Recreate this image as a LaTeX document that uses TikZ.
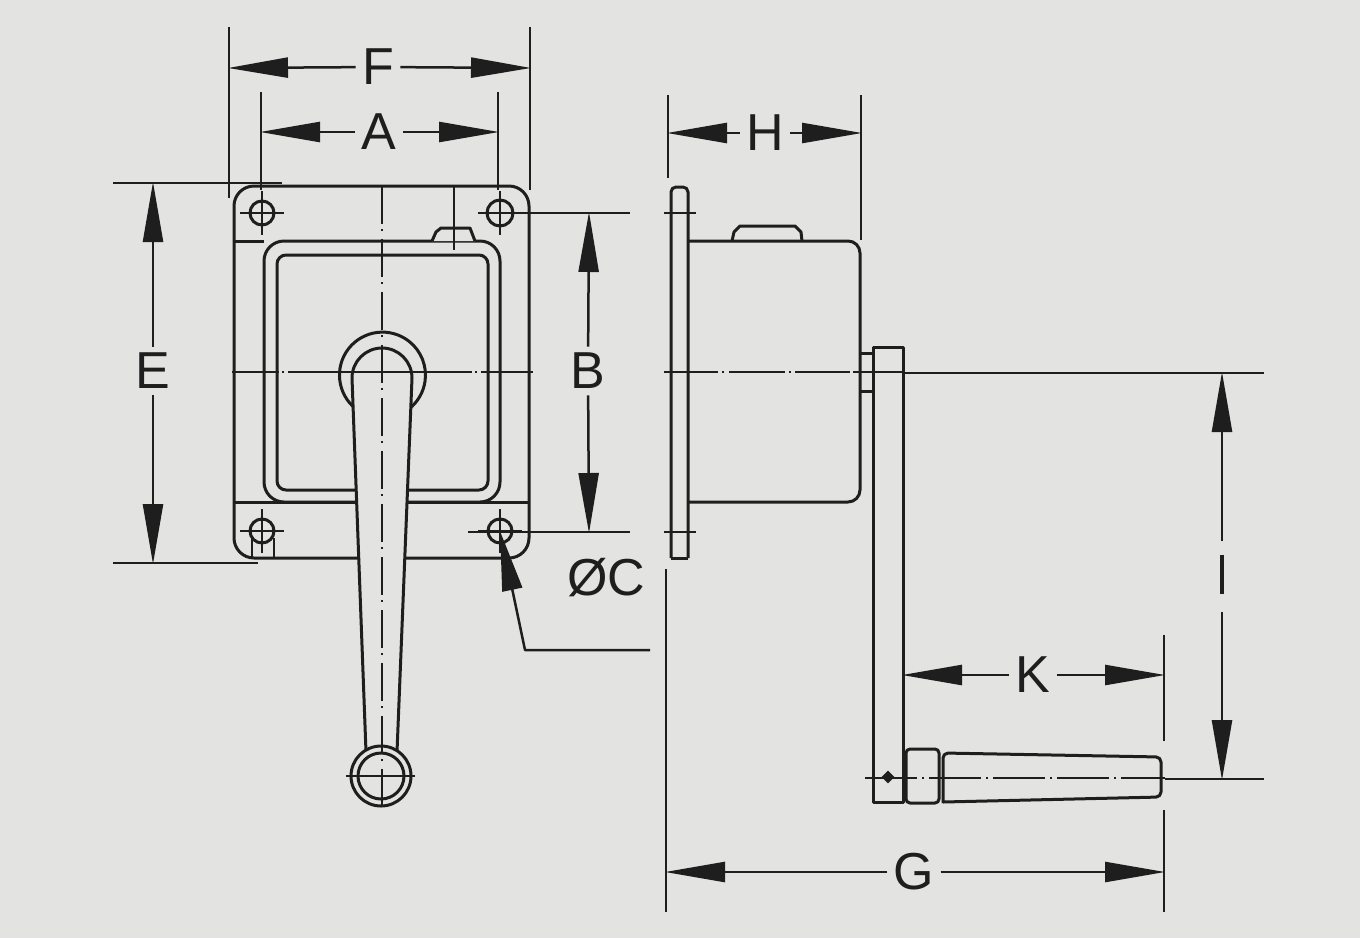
\documentclass[tikz,border=0pt]{standalone}
\usepackage{fontspec}
\setmainfont{Liberation Sans}
\usetikzlibrary{arrows.meta,shapes.geometric}
\definecolor{paper}{HTML}{E3E3E1}
\definecolor{ink}{HTML}{1E1E1E}

\begin{document}
\begin{tikzpicture}[x=1pt,y=-1pt]
        \tikzstyle{every path}=[draw=ink,line width=3pt,line join=round]
        \tikzstyle{ext}=[line width=2.5pt]
        \tikzstyle{centre}=[line width=2.4pt]
        \tikzstyle{thin}=[line width=2pt]
        \tikzstyle{dim}=[line width=2.5pt,-{Triangle[length=60pt,width=20pt]}]
        \tikzstyle{letter}=[draw=none,inner sep=5pt,text=ink,font=\fontsize{52}{52}\selectfont]

        \useasboundingbox[fill=paper,draw=none] (0,0) rectangle (1360,938);

        % ---- front view ----
        \draw[rounded corners=20pt] (234,186) rectangle (529,558);
        \draw (234,241) -- (264,241);
        \draw (234,502) -- (529,502);
        \draw[rounded corners=20pt] (264,241) rectangle (500,502);
        \draw[rounded corners=9pt] (277,255) rectangle (488,490);
        \draw[fill=paper] (432,241) -- (436,232) -- (441,228) -- (470,228) -- (475,241);
        \draw[thin] (454,186) -- (454,250);

        % holes
        \foreach \name/\x/\y/\r in {ha/262/213/12, hb/500/213/13, hc/262/531/12, hd/500/531/12} {
            \node [circle,draw,inner sep=0pt,minimum size=2*\r pt] (\name) at (\x,\y) {};
            \draw[thin] (\x-22,\y) -- (\x+22,\y);
            \draw[thin] (\x,\y-22) -- (\x,\y+22);
        };
        \draw[thin] (252,538) -- (252,558);
        \draw[thin] (274,538) -- (274,558);

        % handle and hub
        \draw[fill=paper] (356,409) arc[start angle=128,end angle=412,radius=43];
        \draw[fill=paper] (352,378) arc[start angle=180,end angle=360,radius=30]
            -- (397,752) -- (366,752) -- cycle;
        \node [circle,draw,fill=paper,inner sep=0pt,minimum size=60pt] (knob) at (381,776) {};
        \node [circle,draw,inner sep=0pt,minimum size=46pt] (knobin) at (381,776) {};

        % centre lines
        \draw[centre,dash pattern=on 38pt off 5pt on 2pt off 8pt] (382,186) -- (382,810);
        \draw[centre,dash pattern=on 47pt off 3pt on 2pt off 4pt on 184pt off 3pt on 2pt off 4pt on 60pt off 1pt]
            (232,372) -- (533,372);
        \draw[thin] (346,776) -- (415,776);

        % ---- side view ----
        \draw[rounded corners=5pt] (671,558) -- (671,187) -- (688,187) -- (688,558);
        \draw (671,558) -- (688,558);
        \draw[thin] (664,213) -- (696,213);
        \draw[thin] (664,532) -- (696,532);
        \draw[rounded corners=12pt] (688,241) -- (860,241) -- (860,502) -- (688,502);
        \draw (732,241) -- (734,232) -- (740,226) -- (795,226) -- (801,232) -- (802,241);
        \draw (860,353) -- (873,353);
        \draw (860,391) -- (873,391);
        \draw (873,347) rectangle (903,802);
        \draw[centre,dash pattern=on 54pt off 4pt on 2pt off 5pt on 56pt off 4pt on 2pt off 4pt on 55pt off 3pt on 60pt off 1pt]
            (664,372) -- (905,372);
        \node [diamond,fill=ink,draw=none,inner sep=0pt,minimum size=14pt] (pivot) at (888,777) {};
        \draw[rounded corners=4pt] (906,749) rectangle (939,803);
        \draw (903,755) -- (906,755);
        \draw (903,797) -- (906,797);
        \draw[rounded corners=5pt] (943,803) -- (943,753) -- (1161,757) -- (1161,797) -- (943,802);
        \draw[centre,dash pattern=on 52pt off 5pt on 2pt off 5pt] (865,778) -- (1165,778);

        % ---- witness lines ----
        \draw[ext] (229,27) -- (229,198);
        \draw[ext] (530,27) -- (530,190);
        \draw[ext] (261,92) -- (261,190);
        \draw[ext] (498,92) -- (498,190);
        \draw[ext] (113,183) -- (282,183);
        \draw[ext] (113,563) -- (258,563);
        \draw[ext] (515,213) -- (630,213);
        \draw[ext] (468,532) -- (630,532);
        \draw[ext] (668,95) -- (668,178);
        \draw[ext] (861,95) -- (861,240);
        \draw[ext] (903,373) -- (1264,373);
        \draw[ext] (1165,779) -- (1264,779);
        \draw[ext] (1164,635) -- (1164,741);
        \draw[ext] (1164,810) -- (1164,912);
        \draw[ext] (666,569) -- (666,912);

        % ---- dimensions ----
        \node [letter] (lblF) at (378,67) {F};
        \node [letter] (lblA) at (379,132) {A};
        \node [letter] (lblE) at (153,371) {E};
        \node [letter] (lblB) at (588,371) {B};
        \node [letter] (lblH) at (765,133) {H};
        \node [letter] (lblK) at (1033,675) {K};
        \node [letter] (lblG) at (914,872) {G};
        \node [letter,inner sep=0pt] (lblC) at (606,578) {ØC};

        \coordinate (Fl) at (228,68);  \coordinate (Fr) at (531,68);
        \coordinate (Al) at (260,132); \coordinate (Ar) at (499,132);
        \coordinate (Et) at (153,182); \coordinate (Eb) at (153,564);
        \coordinate (Bt) at (589,212); \coordinate (Bb) at (589,533);
        \coordinate (Hl) at (667,133); \coordinate (Hr) at (862,133);
        \coordinate (Kl) at (902,675); \coordinate (Kr) at (1165,675);
        \coordinate (Gl) at (665,872); \coordinate (Gr) at (1165,872);

        \foreach \lbl/\a/\b in {lblF/Fl/Fr, lblA/Al/Ar, lblE/Et/Eb, lblB/Bt/Bb, lblH/Hl/Hr, lblK/Kl/Kr, lblG/Gl/Gr} {
            \draw[dim] (\lbl) -- (\a);
            \draw[dim] (\lbl) -- (\b);
        };

        % broken dimension, no letter
        \coordinate (Rt) at (1222,372);  \coordinate (Rb) at (1222,780);
        \coordinate (Ra) at (1222,541);  \coordinate (Rc) at (1222,612);
        \coordinate (Rd) at (1222,555);  \coordinate (Re) at (1222,594);
        \draw[dim] (Ra) -- (Rt);
        \draw[dim] (Rc) -- (Rb);
        \draw[line width=4.5pt] (Rd) -- (Re);

        % leader to the hole
        \coordinate (Cend) at (650,650);
        \coordinate (Cknee) at (525,650);
        \draw[dim] (Cend) -- (Cknee) -- (hd.center);
\end{tikzpicture}
\end{document}
